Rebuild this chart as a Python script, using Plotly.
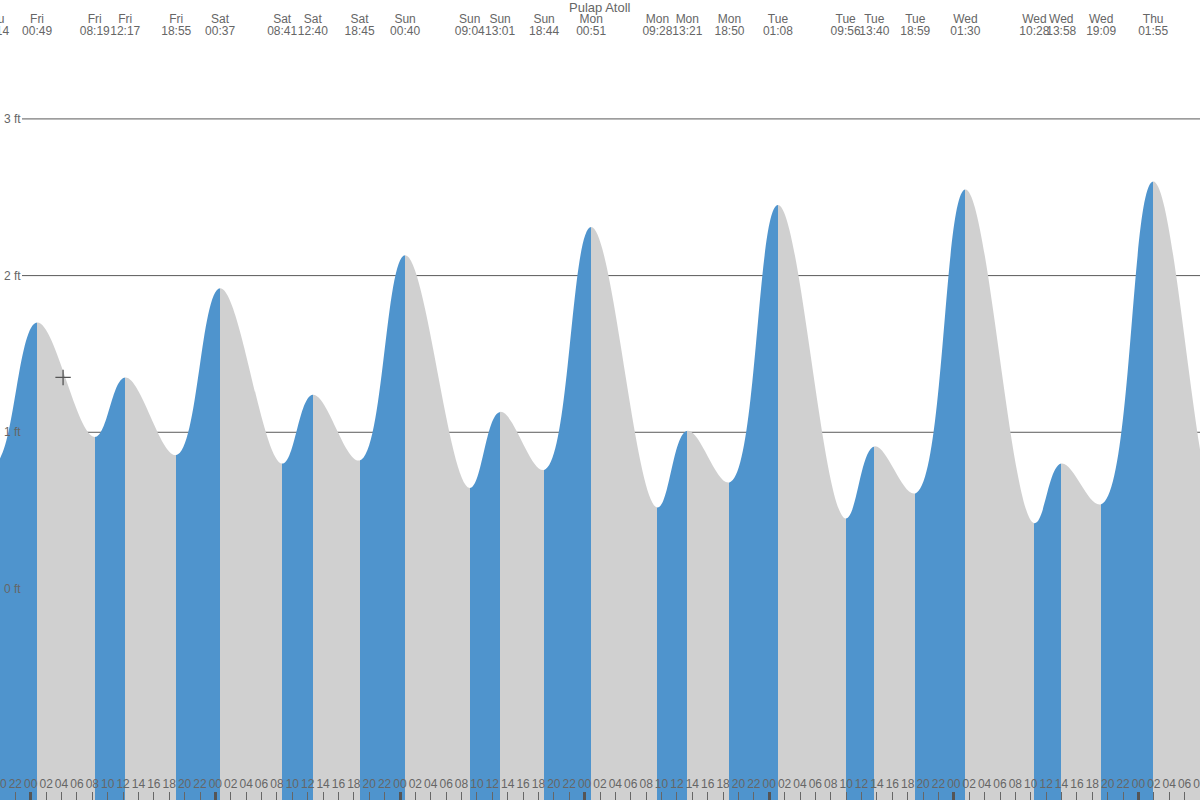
import plotly.graph_objects as go

# ---- data (first and last entries lie just outside the view) ----
title_text = "Pulap Atoll"
extreme_days = ["Thu", "Thu", "Fri", "Fri", "Fri", "Fri", "Sat", "Sat", "Sat", "Sat",
                "Sun", "Sun", "Sun", "Sun", "Mon", "Mon", "Mon", "Mon",
                "Tue", "Tue", "Tue", "Tue", "Wed", "Wed", "Wed", "Wed", "Thu", "Thu", "Thu"]
extreme_times = ["11:50", "19:14", "00:49", "08:19", "12:17", "18:55", "00:37", "08:41", "12:40", "18:45",
                 "00:40", "09:04", "13:01", "18:44", "00:51", "09:28", "13:21", "18:50",
                 "01:08", "09:56", "13:40", "18:59", "01:30", "10:28", "13:58", "19:09",
                 "01:55", "10:50", "14:20"]
extreme_heights_ft = [1.45, 0.80, 1.70, 0.97, 1.35, 0.855, 1.92, 0.80, 1.24, 0.82,
                      2.13, 0.645, 1.13, 0.76, 2.31, 0.52, 1.01, 0.68,
                      2.45, 0.45, 0.91, 0.61, 2.55, 0.42, 0.80, 0.54, 2.60, 0.40, 0.70]
# day offset relative to Friday 00:00
day_offsets = {"Thu": -1, "Fri": 0, "Sat": 1, "Sun": 2, "Mon": 3, "Tue": 4, "Wed": 5}
now_hours = 4.2          # current-time marker (Fri ~04:12)
now_level_ft = 1.35
y_tick_values = [0, 1, 2, 3]
y_tick_labels = ["0 ft", "1 ft", "2 ft", "3 ft"]
hour_ticks = list(range(-4, 153, 2))
hour_labels = [f"{h % 24:02d}" for h in hour_ticks]

# ---- derived positions ----
ext_x = []
week = 0
prev = None
for d, t in zip(extreme_days, extreme_times):
    if prev == "Wed" and d == "Thu":
        week = 7
    prev = d
    hh, mm = t.split(":")
    ext_x.append((day_offsets[d] + week) * 24 + int(hh) + int(mm) / 60)

BLUE = "#4F94CD"
GREY = "#D0D0D0"
TXT = "#666666"
FONT = "Liberation Sans, Arial, sans-serif"

x0, x1 = -4.0, 152.0
y0, y1 = -1.347, 3.759
px_per_ft = 800 / (y1 - y0)
def ft_at_px(py):
    return y1 - py / px_per_ft

# labels only for extremes whose text can reach the visible area
lab_idx = [i for i, x in enumerate(ext_x) if x0 - 3 < x < x1 + 2]
lab_x = [ext_x[i] for i in lab_idx]
lab_days = [extreme_days[i] for i in lab_idx]
lab_times = [extreme_times[i] for i in lab_idx]

# step colorscale: rising segments blue, falling grey
start, stop = ext_x[0], ext_x[-1]
cs = []
for i in range(len(ext_x) - 1):
    c = BLUE if extreme_heights_ft[i + 1] > extreme_heights_ft[i] else GREY
    a = (ext_x[i] - start) / (stop - start)
    b = (ext_x[i + 1] - start) / (stop - start)
    cs.append([a, c])
    cs.append([b, c])

fig = go.Figure()
# baseline below the visible area
fig.add_trace(go.Scatter(x=[ext_x[0] - 2, ext_x[-1] + 2], y=[-3, -3], mode="lines",
                         line=dict(width=0), hoverinfo="skip", showlegend=False))
fig.add_trace(go.Scatter(x=ext_x, y=extreme_heights_ft, mode="lines",
                         line=dict(width=0, shape="spline", smoothing=1.1),
                         fill="tonexty",
                         fillgradient=dict(type="horizontal", start=start, stop=stop, colorscale=cs),
                         hoverinfo="skip", showlegend=False))
# current time marker
fig.add_trace(go.Scatter(x=[now_hours], y=[now_level_ft], mode="markers",
                         marker=dict(symbol="cross-thin", size=11, line=dict(color="#555555", width=1.3)),
                         hoverinfo="skip", showlegend=False))
# top labels: day and time of each extreme
fig.add_trace(go.Scatter(x=lab_x, y=[ft_at_px(20)] * len(lab_x), mode="text", text=lab_days,
                         textfont=dict(family=FONT, size=12, color=TXT), textposition="middle center",
                         hoverinfo="skip", showlegend=False))
fig.add_trace(go.Scatter(x=lab_x, y=[ft_at_px(32)] * len(lab_x), mode="text", text=lab_times,
                         textfont=dict(family=FONT, size=12, color=TXT), textposition="middle center",
                         hoverinfo="skip", showlegend=False))
# bottom hour labels
fig.add_trace(go.Scatter(x=hour_ticks, y=[ft_at_px(785)] * len(hour_ticks), mode="text", text=hour_labels,
                         textfont=dict(family=FONT, size=12, color=TXT), textposition="middle center",
                         hoverinfo="skip", showlegend=False))

# gridlines (behind fill) and y labels
for v, lab in zip(y_tick_values, y_tick_labels):
    fig.add_shape(type="line", xref="paper", yref="y", x0=22 / 1200, x1=1, y0=v, y1=v,
                  line=dict(color="#5a5a5a", width=1), layer="below")
    fig.add_annotation(xref="paper", yref="y", x=0, y=v, text=lab, showarrow=False,
                       xanchor="left", yanchor="middle", xshift=2,
                       font=dict(family=FONT, size=12, color=TXT))

fig.add_annotation(xref="paper", yref="paper", x=0.5, y=1 - 7 / 800, text=title_text, showarrow=False,
                   xanchor="center", yanchor="middle", font=dict(family=FONT, size=13, color=TXT))

fig.update_layout(
    width=1200, height=800,
    margin=dict(l=0, r=0, t=0, b=0),
    paper_bgcolor="white", plot_bgcolor="white",
    xaxis=dict(range=[x0, x1], showgrid=False, zeroline=False, showline=False,
               showticklabels=False, ticks="inside", tickmode="linear", tick0=0, dtick=24,
               ticklen=8, tickwidth=3, tickcolor="#555555",
               minor=dict(ticks="inside", tickmode="linear", tick0=0, dtick=2,
                          ticklen=8, tickwidth=1, tickcolor="#666666", showgrid=False)),
    yaxis=dict(range=[y0, y1], showgrid=False, zeroline=False, showline=False,
               showticklabels=False, ticks=""),
    showlegend=False,
)

fig.write_html("out.html",
               config={"displayModeBar": False},
               post_script="document.body.style.margin='0';document.body.style.padding='0';"
                           "document.body.style.overflow='hidden';")
